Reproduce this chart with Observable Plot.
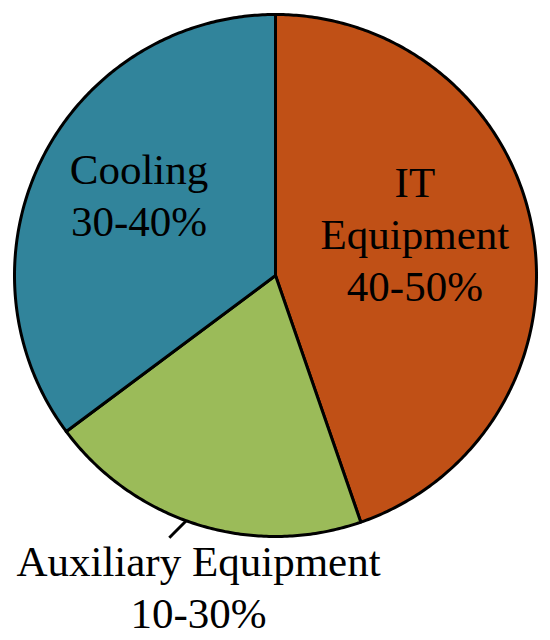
<!DOCTYPE html>
<html>
<head>
<meta charset="utf-8">
<script src="https://cdn.jsdelivr.net/npm/d3@7"></script>
<script src="https://cdn.jsdelivr.net/npm/@observablehq/plot@0.6"></script>
<style>
  html, body { margin: 0; padding: 0; background: #fff; }
  #chart svg { display: block; }
</style>
</head>
<body>
<div id="chart"></div>
<script>
// Data
const categories = ["IT Equipment", "Auxiliary Equipment", "Cooling"];
const shares = [44.7, 20.1, 35.2];           // approximate share of each slice (%)
const rangeLabels = ["40-50%", "10-30%", "30-40%"];
const nameLabels = ["IT\nEquipment", "Auxiliary Equipment", "Cooling"];
const colors = ["#C05016", "#9BBB59", "#31849B"];

// Layout (data coordinates, pie radius = 1)
const labelAnchor = {
  "IT Equipment": [0.534, -0.096],
  "Auxiliary Equipment": [-0.295, -1.349],
  "Cooling": [-0.523, 0.153]
};

const table = categories.map((c, i) => ({name: c, value: shares[i], label: nameLabels[i] + "\n" + rangeLabels[i]}));
const arcs = d3.pie().sort(null).value(d => d.value)(table);

// polygon points for each slice
const pts = [];
for (const a of arcs) {
  pts.push({name: a.data.name, x: 0, y: 0});
  const n = Math.max(8, Math.ceil((a.endAngle - a.startAngle) / 0.01));
  for (let k = 0; k <= n; k++) {
    const t = a.startAngle + (a.endAngle - a.startAngle) * k / n;
    pts.push({name: a.data.name, x: Math.sin(t), y: Math.cos(t)});
  }
}

const labels = table.map(d => ({label: d.label, x: labelAnchor[d.name][0], y: labelAnchor[d.name][1]}));

// leader line for the auxiliary slice
const auxArc = arcs[1];
const la = auxArc.startAngle + (auxArc.endAngle - auxArc.startAngle) * 0.54;
const leader = [{x1: Math.sin(la), y1: Math.cos(la), x2: Math.sin(la) - 0.065, y2: Math.cos(la) - 0.065}];

const serif = "'Liberation Serif', 'Times New Roman', Times, serif";
const chart = Plot.plot({
  width: 550,
  height: 640,
  margin: 0,
  style: {background: "#fff", fontFamily: serif},
  x: {domain: [-1, 1], range: [14, 536], axis: null},
  y: {domain: [-1, 1], range: [536, 14], axis: null},
  color: {domain: categories, range: colors},
  marks: [
    Plot.line(pts, {x: "x", y: "y", z: "name", fill: "name", stroke: "black", strokeWidth: 3, strokeLinejoin: "round", curve: "linear-closed"}),
    Plot.link(leader, {x1: "x1", y1: "y1", x2: "x2", y2: "y2", stroke: "black", strokeWidth: 3}),
    Plot.text(labels, {x: "x", y: "y", text: "label", lineAnchor: "bottom", lineHeight: 1.21, fontSize: 43, fontFamily: serif, fill: "black", textAnchor: "middle"})
  ]
});
document.getElementById("chart").appendChild(chart);
</script>
</body>
</html>
